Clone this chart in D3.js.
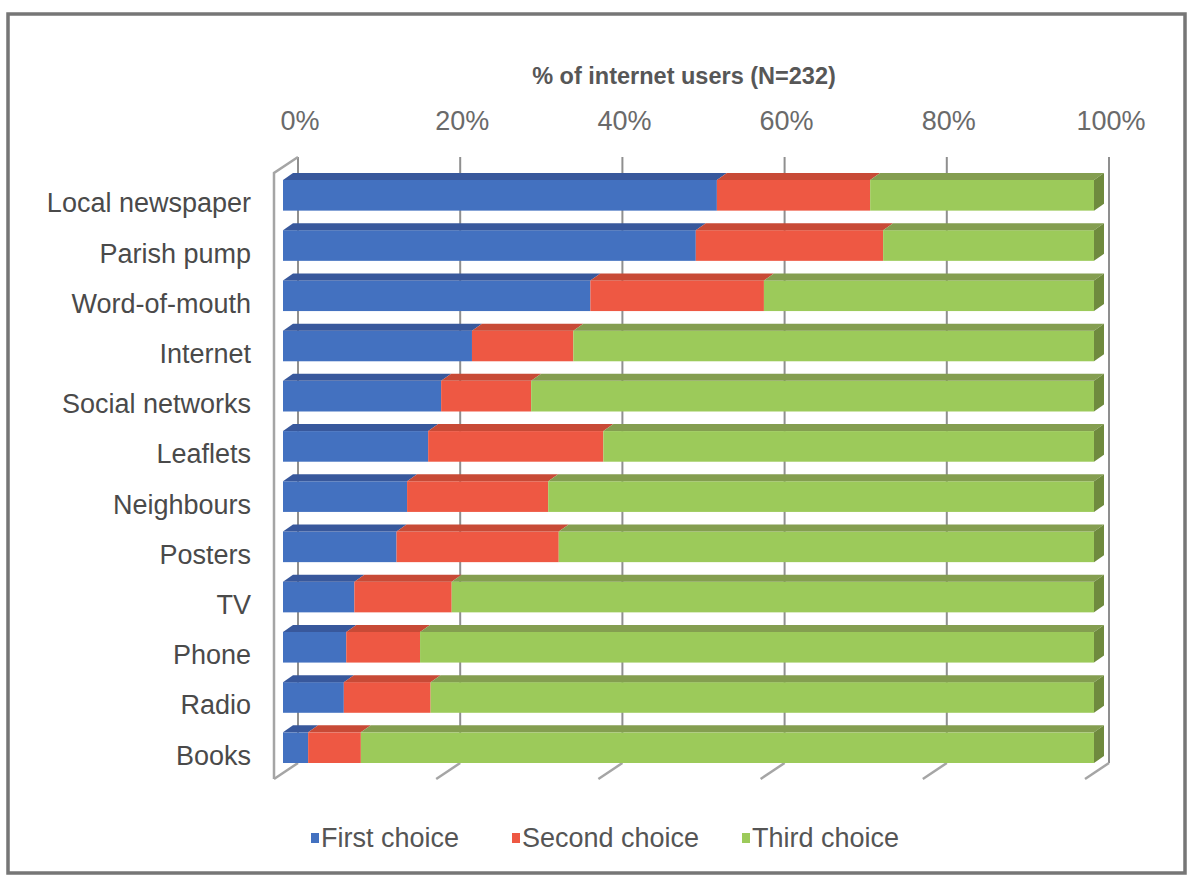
<!DOCTYPE html>
<html>
<head>
<meta charset="utf-8">
<script src="https://cdn.jsdelivr.net/npm/d3@7"></script>
<style>
  body { margin: 0; background: #fff; }
  text { font-family: "Liberation Sans", Arial, sans-serif; }
</style>
</head>
<body>
<svg width="1191" height="875"></svg>
<script>
var categories = ["Local newspaper", "Parish pump", "Word-of-mouth", "Internet",
  "Social networks", "Leaflets", "Neighbours", "Posters", "TV", "Phone", "Radio", "Books"];
var firstChoice  = [53.5, 50.9, 37.9, 23.3, 19.5, 17.9, 15.3, 14.0, 8.8, 7.8, 7.5, 3.1];
var secondChoice = [18.9, 23.1, 21.4, 12.5, 11.1, 21.6, 17.4, 20.0, 12.0, 9.1, 10.7, 6.5];
var thirdChoice  = [27.6, 26.0, 40.7, 64.2, 69.4, 60.5, 67.3, 66.0, 79.2, 83.1, 81.8, 90.4];
var seriesNames = ["First choice", "Second choice", "Third choice"];
var tickValues = [0, 20, 40, 60, 80, 100];
var axisTitle = "% of internet users (N=232)";

var svg = d3.select("svg");

var frontColor = ["#4371c0", "#ee5843", "#9cca5a"];
var topColor = ["#38589c", "#c84a36", "#849e50"];
var sideColor = "#6f8a3e";

// table for the stack
var table = categories.map(function (c, i) {
  return { cat: c, "First choice": firstChoice[i], "Second choice": secondChoice[i], "Third choice": thirdChoice[i] };
});
var stacked = d3.stack().keys(seriesNames)(table);

var x = d3.scaleLinear().domain([0, 100]).range([0, 811]);
var y = d3.scaleBand().domain(categories).range([180, 763]).paddingInner(0.39).paddingOuter(0);

// geometry of the fake 3d box
var backX = 298, backTop = 157, backBottom = 763;
var floorX = 274, floorY = 779;
var barX = 283;
var depth = { dx: 10, dy: -7 };

// outer frame
svg.append("rect")
  .attr("x", 8).attr("y", 14)
  .attr("width", 1177).attr("height", 859)
  .attr("fill", "none")
  .attr("stroke", "#767676")
  .attr("stroke-width", 3.5);

// back wall gridlines + floor lines
var grid = svg.append("g").attr("class", "grid");
grid.selectAll("line.back")
  .data(tickValues)
  .enter()
  .append("line")
  .attr("class", "back")
  .attr("x1", function (d) { return backX + x(d); })
  .attr("x2", function (d) { return backX + x(d); })
  .attr("y1", backTop)
  .attr("y2", backBottom)
  .attr("stroke", "#8f8f8f")
  .attr("stroke-width", 2);

grid.selectAll("line.floor")
  .data(tickValues)
  .enter()
  .append("line")
  .attr("class", "floor")
  .attr("x1", function (d) { return backX + x(d); })
  .attr("x2", function (d) { return floorX + x(d); })
  .attr("y1", backBottom)
  .attr("y2", floorY)
  .attr("stroke", "#a5a5a5")
  .attr("stroke-width", 2.5);

// left side wall edge
grid.append("path")
  .attr("d", "M" + backX + "," + backTop + "L" + floorX + "," + (backTop + (floorY - backBottom)) + "L" + floorX + "," + floorY)
  .attr("fill", "none")
  .attr("stroke", "#a5a5a5")
  .attr("stroke-width", 2.5);

// bars
var rows = svg.append("g").attr("class", "bars");
stacked.forEach(function (series, si) {
  var g = rows.append("g");
  g.selectAll("rect")
    .data(series)
    .enter()
    .append("rect")
    .attr("x", function (d) { return barX + x(d[0]); })
    .attr("y", function (d) { return y(d.data.cat); })
    .attr("width", function (d) { return x(d[1]) - x(d[0]); })
    .attr("height", y.bandwidth())
    .attr("fill", frontColor[si]);

  g.selectAll("path.top")
    .data(series)
    .enter()
    .append("path")
    .attr("class", "top")
    .attr("d", function (d) {
      var x1 = barX + x(d[0]), x2 = barX + x(d[1]), yy = y(d.data.cat);
      return "M" + x1 + "," + yy + "L" + x2 + "," + yy +
        "L" + (x2 + depth.dx) + "," + (yy + depth.dy) +
        "L" + (x1 + depth.dx) + "," + (yy + depth.dy) + "Z";
    })
    .attr("fill", topColor[si]);

  if (si === stacked.length - 1) {
    g.selectAll("path.side")
      .data(series)
      .enter()
      .append("path")
      .attr("class", "side")
      .attr("d", function (d) {
        var x2 = barX + x(d[1]), yy = y(d.data.cat), h = y.bandwidth();
        return "M" + x2 + "," + yy +
          "L" + (x2 + depth.dx) + "," + (yy + depth.dy) +
          "L" + (x2 + depth.dx) + "," + (yy + h + depth.dy) +
          "L" + x2 + "," + (yy + h) + "Z";
      })
      .attr("fill", sideColor);
  }
});

// category labels
svg.append("g")
  .selectAll("text")
  .data(categories)
  .enter()
  .append("text")
  .attr("x", 251)
  .attr("y", function (d) { return y(d) + y.bandwidth() / 2 + 17; })
  .attr("text-anchor", "end")
  .attr("font-size", 27)
  .attr("fill", "#4a4a4a")
  .text(function (d) { return d; });

// tick labels on top
svg.append("g")
  .selectAll("text")
  .data(tickValues)
  .enter()
  .append("text")
  .attr("x", function (d) { return backX + x(d) + 2; })
  .attr("y", 130)
  .attr("text-anchor", "middle")
  .attr("font-size", 27)
  .attr("fill", "#6a6a6a")
  .text(function (d) { return d + "%"; });

svg.append("text")
  .attr("x", 684)
  .attr("y", 84)
  .attr("text-anchor", "middle")
  .attr("font-size", 23.5)
  .attr("font-weight", "bold")
  .attr("fill", "#575757")
  .text(axisTitle);

// legend
var legendX = [311, 512, 742];
var legend = svg.append("g")
  .selectAll("g")
  .data(seriesNames)
  .enter()
  .append("g")
  .attr("transform", function (d, i) { return "translate(" + legendX[i] + ",838)"; });

legend.append("rect")
  .attr("x", 0).attr("y", -5)
  .attr("width", 8).attr("height", 10)
  .attr("fill", function (d, i) { return frontColor[i]; });

legend.append("text")
  .attr("x", 10)
  .attr("y", 9)
  .attr("font-size", 27)
  .attr("fill", "#555")
  .text(function (d) { return d; });
</script>
</body>
</html>
